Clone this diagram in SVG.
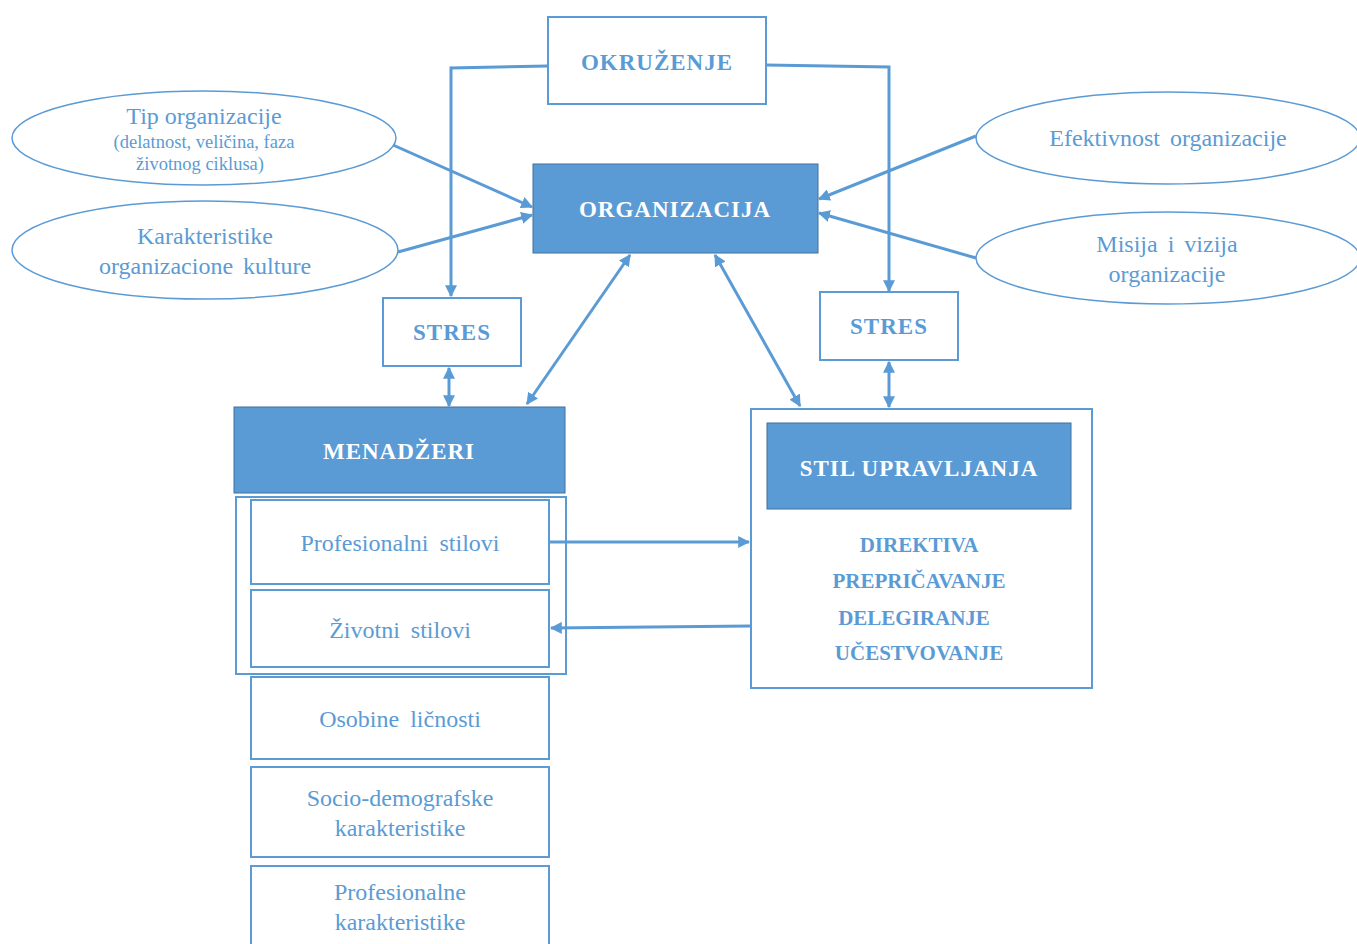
<svg xmlns="http://www.w3.org/2000/svg" width="1357" height="944" viewBox="0 0 1357 944">
<defs>
<style>
.box{fill:#fff;stroke:#5b9bd5;stroke-width:2}
.grp{fill:none;stroke:#5b9bd5;stroke-width:2}
.fill{fill:#5b9bd5;stroke:#41719c;stroke-width:1}
.ell{fill:#fff;stroke:#5b9bd5;stroke-width:1.5}
.t{font-family:"Liberation Serif","Times New Roman",serif;fill:#5b9bd5;text-anchor:middle;font-size:24px}
.s{font-size:18.5px}
.b{font-weight:bold;font-size:23px;letter-spacing:1px}
.w{fill:#fff}
.l{font-size:21px;font-weight:bold}
.c{fill:none;stroke:#5b9bd5;stroke-width:3}
</style>
<marker id="ah" viewBox="0 0 10 10" refX="9" refY="5" markerWidth="4" markerHeight="4" orient="auto-start-reverse">
<path d="M0,0 L10,5 L0,10 z" fill="#5b9bd5"/>
</marker>
</defs>
<rect width="1357" height="944" fill="#fff"/>

<g id="okruzenje">
<rect class="box" x="548" y="17" width="218" height="87"/>
<text class="t b" x="657" y="70">OKRUŽENJE</text>
</g>

<g id="organizacija">
<rect class="fill" x="533" y="164" width="285" height="89"/>
<text class="t b w" x="675" y="217">ORGANIZACIJA</text>
</g>

<g id="tip-organizacije">
<ellipse class="ell" cx="204" cy="138" rx="192" ry="47"/>
<text class="t" x="204" y="124">Tip organizacije</text>
<text class="t s" x="204" y="148">(delatnost, veličina,  faza</text>
<text class="t s" x="200" y="170">životnog ciklusa)</text>
</g>

<g id="karakteristike-kulture">
<ellipse class="ell" cx="205" cy="250" rx="193" ry="49"/>
<text class="t" x="205" y="244">Karakteristike</text>
<text class="t" x="205" y="274" word-spacing="4">organizacione kulture</text>
</g>

<g id="efektivnost">
<ellipse class="ell" cx="1168" cy="138" rx="192" ry="46"/>
<text class="t" x="1168" y="146" word-spacing="4">Efektivnost organizacije</text>
</g>

<g id="misija">
<ellipse class="ell" cx="1168" cy="258" rx="192" ry="46"/>
<text class="t" x="1167" y="252" word-spacing="4">Misija i vizija</text>
<text class="t" x="1167" y="282">organizacije</text>
</g>

<g id="stres-levo">
<rect class="box" x="383" y="298" width="138" height="68"/>
<text class="t b" x="452" y="340">STRES</text>
</g>

<g id="stres-desno">
<rect class="box" x="820" y="292" width="138" height="68"/>
<text class="t b" x="889" y="334">STRES</text>
</g>

<g id="menadzeri">
<rect class="fill" x="234" y="407" width="331" height="86"/>
<text class="t b w" x="399" y="459">MENADŽERI</text>
</g>

<g id="profesionalni-stilovi">
<rect class="box" x="251" y="500" width="298" height="84"/>
<text class="t" x="400" y="551" word-spacing="5">Profesionalni stilovi</text>
</g>

<g id="zivotni-stilovi">
<rect class="box" x="251" y="590" width="298" height="77"/>
<text class="t" x="400" y="638" word-spacing="5">Životni stilovi</text>
</g>

<g id="stilovi-grupa">
<rect class="grp" x="236" y="497" width="330" height="177"/>
</g>

<g id="osobine-licnosti">
<rect class="box" x="251" y="677" width="298" height="82"/>
<text class="t" x="400" y="727" word-spacing="5">Osobine ličnosti</text>
</g>

<g id="socio-demografske">
<rect class="box" x="251" y="767" width="298" height="90"/>
<text class="t" x="400" y="806">Socio-demografske</text>
<text class="t" x="400" y="836">karakteristike</text>
</g>

<g id="profesionalne-karakteristike">
<rect class="box" x="251" y="866" width="298" height="90"/>
<text class="t" x="400" y="900">Profesionalne</text>
<text class="t" x="400" y="930">karakteristike</text>
</g>

<g id="stil-upravljanja">
<rect class="box" x="751" y="409" width="341" height="279"/>
<rect class="fill" x="767" y="423" width="304" height="86"/>
<text class="t b w" x="919" y="476">STIL UPRAVLJANJA</text>
<text class="t l" x="919" y="552">DIREKTIVA</text>
<text class="t l" x="919" y="588">PREPRIČAVANJE</text>
<text class="t l" x="914" y="625">DELEGIRANJE</text>
<text class="t l" x="919" y="660">UČESTVOVANJE</text>
</g>

<g id="connectors">
<polyline class="c" points="548,66 451,68 451,296" marker-end="url(#ah)"/>
<polyline class="c" points="766,65 889,67 889,291" marker-end="url(#ah)"/>
<line class="c" x1="449" y1="368" x2="449" y2="406" marker-start="url(#ah)" marker-end="url(#ah)"/>
<line class="c" x1="889" y1="362" x2="889" y2="407" marker-start="url(#ah)" marker-end="url(#ah)"/>
<line class="c" x1="630" y1="255" x2="527" y2="404" marker-start="url(#ah)" marker-end="url(#ah)"/>
<line class="c" x1="715" y1="255" x2="800" y2="406" marker-start="url(#ah)" marker-end="url(#ah)"/>
<line class="c" x1="393" y1="145" x2="532" y2="207" marker-end="url(#ah)"/>
<line class="c" x1="398" y1="252" x2="532" y2="215" marker-end="url(#ah)"/>
<line class="c" x1="976" y1="136" x2="819" y2="199" marker-end="url(#ah)"/>
<line class="c" x1="976" y1="258" x2="819" y2="213" marker-end="url(#ah)"/>
<line class="c" x1="550" y1="542" x2="749" y2="542" marker-end="url(#ah)"/>
<line class="c" x1="751" y1="626" x2="551" y2="628" marker-end="url(#ah)"/>
</g>
</svg>
